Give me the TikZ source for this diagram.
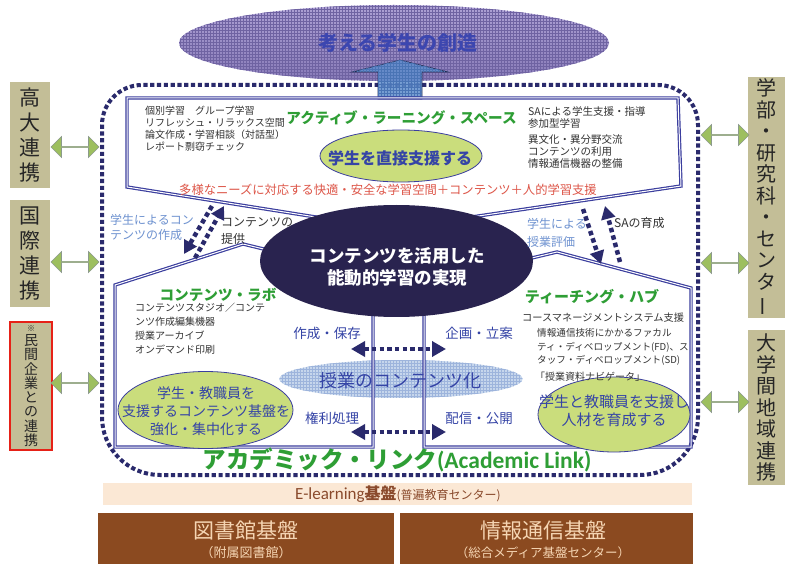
\documentclass[tikz,border=0pt]{standalone}
\usepackage{fontspec}
\usepackage{graphicx}
\setmainfont{Noto Sans CJK JP}
\newfontfamily\latf{Carlito}
\usetikzlibrary{shapes.geometric,shapes.arrows,arrows.meta,patterns}
\definecolor{frameblue}{HTML}{3B3E9E}
\definecolor{navy}{HTML}{2A2A6C}
\definecolor{ttlgreen}{HTML}{2E9E35}
\definecolor{txtblue}{HTML}{3544A6}
\definecolor{titblue}{HTML}{3C46B0}
\definecolor{ltblue}{HTML}{6E92D0}
\definecolor{khaki}{HTML}{C3BE97}
\definecolor{lime}{HTML}{CADD7C}
\definecolor{peach}{HTML}{FBE8D5}
\definecolor{brownbox}{HTML}{8B4A20}
\definecolor{brownt}{HTML}{F5D5B3}
\definecolor{redtxt}{HTML}{DD5548}
\definecolor{darkell}{HTML}{29234F}
\definecolor{arrgreen}{HTML}{9DBF5F}
\definecolor{arrgray}{HTML}{8B9A8B}
\definecolor{gtxt}{HTML}{333333}
\definecolor{redbox}{HTML}{E62117}
\definecolor{ellTop}{HTML}{ADA1D4}
\definecolor{ellBot}{HTML}{887BB8}
\definecolor{ellGrid}{HTML}{6F63A2}
\definecolor{arrblue}{HTML}{5F8CCB}
\definecolor{arrdark}{HTML}{1E2A50}
\definecolor{arrgrid}{HTML}{4A74B5}
\definecolor{jfill}{HTML}{C6D6EC}
\definecolor{jgrid}{HTML}{9DB4DC}
\definecolor{elbrown}{HTML}{8A4A2C}
\newcommand\fsz[2]{\fontsize{#1}{#2}\selectfont}
\newcommand\vchoon{\rotatebox[origin=c]{90}{ー}}
\tikzset{
  dbl/.style={draw=frameblue,line width=1.2pt,double=white,double distance=1pt,line join=miter},
  frm/.style={draw=navy,line width=4pt,dash pattern=on 4.2pt off 2.6pt},
  diagarr/.style={draw=navy,line width=4.5pt,dash pattern=on 4.5pt off 3.2pt,-{Triangle[length=13pt,width=14pt]}},
  horarr/.style={draw=navy,line width=4.5pt,dash pattern=on 4.5pt off 3.2pt,{Triangle[length=14pt,width=15pt]}-{Triangle[length=14pt,width=15pt]}},
  gell/.style={ellipse,fill=lime,draw=frameblue,line width=0.8pt},
  sidebox/.style={fill=khaki,align=center,text=black!85},
  garr/.style={double arrow,fill=arrgreen,draw=arrgray,line width=0.6pt,minimum height=48pt,minimum width=21pt,double arrow head extend=4.5pt},
  midlbl/.style={font=\fsz{13.5}{15},text=txtblue},
  lst/.style={text=gtxt,align=left,anchor=west},
}
\begin{document}
\begin{tikzpicture}[x=1pt,y=-1pt,every node/.style={inner sep=0pt}]
\useasboundingbox (0,0) rectangle (785,564);
\fill[white] (0,0) rectangle (785,564);

% outer dotted frame
\draw[frm] (400,85) [rounded corners=40pt] -- (698,85) -- (698,280) [rounded corners=58pt] -- (698,475) -- (102,475) -- (102,280) [rounded corners=40pt] -- (102,85) -- cycle;

% top ellipse
\node[ellipse,minimum width=430pt,minimum height=76pt,top color=ellTop,bottom color=ellBot,postaction={pattern=grid,pattern color=ellGrid}] (topell) at (394,43) {};
\node[font=\bfseries\fsz{20}{22},text=titblue] (toptxt) at (398,43) {考える学生の創造};

% upward block arrow
\filldraw[fill=arrblue,draw=arrdark,line width=0.6pt,fill opacity=0.85,postaction={pattern=grid,pattern color=arrgrid}] (378,99) -- (378,72) -- (352,72) -- (400,60) -- (448,72) -- (422,72) -- (422,99) -- cycle;

% light ellipse
\node[ellipse,minimum width=243pt,minimum height=38pt,fill=jfill,postaction={pattern=grid,pattern color=jgrid}] (jell) at (401,379) {};

% boxes
\draw[dbl] (322,218) -- (127,187) -- (127,98) -- (678,98) -- (681,186) -- (465,218);
\draw[dbl] (280,253) -- (243,244) -- (115,285) -- (115,447) -- (373,447) -- (373,305);
\draw[dbl] (515,262) -- (557,252) -- (691,288) -- (691,447) -- (424,447) -- (424,305);

% central ellipse
\node[ellipse,minimum width=273pt,minimum height=112pt,fill=darkell] (cell) at (396.5,261) {};
\node[font=\bfseries\fsz{17.5}{21.5},text=white,align=center] (celltxt) at (397,267) {コンテンツを活用した\\能動的学習の実現};

% top box content
\node[font=\bfseries\fsz{14.6}{16},text=ttlgreen] (alst) at (401.5,118) {アクティブ・ラーニング・スペース};
\node[lst,font=\fsz{10}{12}] (allist) at (145,129) {個別学習　グループ学習\\リフレッシュ・リラックス空間\\論文作成・学習相談（対話型）\\レポート剽窃チェック};
\node[gell,minimum width=162pt,minimum height=52pt] (alsell) at (401,156) {};
\node[font=\bfseries\fsz{16}{18},text=txtblue] (alstxt) at (400,158) {学生を直接支援する};
\node[lst,font=\fsz{10.5}{11.7}] (arl1) at (528,117.5) {SAによる学生支援・指導\\参加型学習};
\node[lst,font=\fsz{10.5}{11.7}] (arl2) at (528,151.5) {異文化・異分野交流\\コンテンツの利用\\情報通信機器の整備};
\node[font=\fsz{12.3}{14},text=redtxt] (redline) at (388,190) {多様なニーズに対応する快適・安全な学習空間＋コンテンツ＋人的学習支援};

% left box content
\node[font=\bfseries\fsz{14.6}{16},text=ttlgreen] (labt) at (218,295) {コンテンツ・ラボ};
\node[lst,font=\fsz{10}{14}] (lablist) at (135,329) {コンテンツスタジオ／コンテ\\ンツ作成編集機器\\授業アーカイブ\\オンデマンド印刷};
\node[gell,minimum width=175pt,minimum height=77pt] (labell) at (205.5,410) {};
\node[font=\fsz{14}{18},text=txtblue,align=center] (labtxt) at (206,411) {学生・教職員を\\支援するコンテンツ基盤を\\強化・集中化する};

% right box content
\node[font=\bfseries\fsz{15}{16},text=ttlgreen] (hubt) at (592,297) {ティーチング・ハブ};
\node[lst,font=\fsz{10.2}{12}] (hubl1) at (522,318) {コースマネージメントシステム支援};
\node[gell,minimum width=152pt,minimum height=75pt] (hubell) at (614,414.5) {};
\node[lst,font=\fsz{9.6}{13.5}] (hubl2) at (537,347) {情報通信技術にかかるファカル\\ティ・ディベロップメント(FD)、ス\\タッフ・ディベロップメント(SD)};
\node[lst,font=\fsz{10}{12}] (hubl3) at (535,377) {「授業資料ナビゲータ」};
\node[font=\fsz{15}{18},text=txtblue,align=center] (hubtxt) at (614,411) {学生と教職員を支援し\\人材を育成する};

% labels between boxes
\node[font=\fsz{12}{15},text=ltblue,align=left,anchor=west] (lblA) at (110,227.5) {学生によるコン\\テンツの作成};
\node[lst,font=\fsz{12}{17}] (lblB) at (221,231) {コンテンツの\\提供};
\node[font=\fsz{12}{18},text=ltblue,align=left,anchor=west] (lblC) at (527,233) {学生による\\授業評価};
\node[lst,font=\fsz{12}{14}] (lblD) at (614,223) {SAの育成};

% middle labels
\node[midlbl] (m1) at (327,333) {作成・保存};
\node[midlbl] (m2) at (479,333) {企画・立案};
\node[midlbl] (m3) at (332,418) {権利処理};
\node[midlbl] (m4) at (479,418) {配信・公開};
\node[font=\fsz{18}{20},text=txtblue] (jtxt) at (400,381) {授業のコンテンツ化};

% dotted arrows
\coordinate (a1s) at (212,206); \coordinate (a1e) at (184,254);
\coordinate (a2s) at (195,258); \coordinate (a2e) at (224,206);
\coordinate (a3s) at (583,209); \coordinate (a3e) at (601,264);
\coordinate (a4s) at (620,262); \coordinate (a4e) at (605,206);
\coordinate (h1l) at (351,349); \coordinate (h1r) at (446,349);
\coordinate (h2l) at (351,432); \coordinate (h2r) at (446,432);
\draw[diagarr] (a1s) -- (a1e);
\draw[diagarr] (a2s) -- (a2e);
\draw[diagarr] (a3s) -- (a3e);
\draw[diagarr] (a4s) -- (a4e);
\draw[horarr] (h1l) -- (h1r);
\draw[horarr] (h2l) -- (h2r);

% bottom title
\node[font=\bfseries\fsz{23.5}{25},text=ttlgreen] (altitle) at (397,460) {アカデミック・リンク{\latf(Academic Link)}};

% side boxes
\node[sidebox,minimum width=40pt,minimum height=106pt,font=\fsz{21}{25}] (koudai) at (30,135) {高\\大\\連\\携};
\node[sidebox,minimum width=40pt,minimum height=107pt,font=\fsz{21}{25}] (kokusai) at (30,253.5) {国\\際\\連\\携};
\node[sidebox,draw=redbox,line width=2pt,minimum width=42pt,minimum height=128pt,font=\fsz{14}{14.3}] (minkan) at (31,386) {{\fsz{8}{9}※}\\民\\間\\企\\業\\と\\の\\連\\携};
\node[sidebox,minimum width=37pt,minimum height=241pt,font=\fsz{20}{21.5}] (gakubu) at (766.5,197.5) {学\\部\\・\\研\\究\\科\\・\\セ\\ン\\タ\\\vchoon};
\node[sidebox,minimum width=37pt,minimum height=155pt,font=\fsz{20}{21.5}] (daigaku) at (766.5,407.5) {大\\学\\間\\地\\域\\連\\携};

% green double arrows
\node[garr] (ga1) at (75,147) {};
\node[garr] (ga2) at (75,262) {};
\node[garr] (ga3) at (75,383) {};
\node[garr] (ga4) at (725,135) {};
\node[garr] (ga5) at (725,263) {};
\node[garr] (ga6) at (725,402) {};

% bottom bars
\node[fill=peach,minimum width=589pt,minimum height=22pt] (elbar) at (397.5,494) {};
\node[text=elbrown] (eltxt) at (398,494.5) {{\latf\fsz{17}{18}E-learning}{\bfseries\fsz{16}{18}基盤}{\fsz{12}{14}(普遍教育センター)}};
\node[fill=brownbox,minimum width=296pt,minimum height=52pt] (libbox) at (246,539) {};
\node[fill=brownbox,minimum width=293pt,minimum height=52pt] (ictbox) at (546.5,539) {};
\node[font=\fsz{21}{22},text=brownt] (libt1) at (246,531) {図書館基盤};
\node[font=\fsz{13}{14},text=brownt] (libt2) at (246,553) {（附属図書館）};
\node[font=\fsz{21}{22},text=brownt] (ictt1) at (543,531) {情報通信基盤};
\node[font=\fsz{12.5}{14},text=brownt] (ictt2) at (543,553) {（総合メディア基盤センター）};
\end{tikzpicture}
\end{document}
